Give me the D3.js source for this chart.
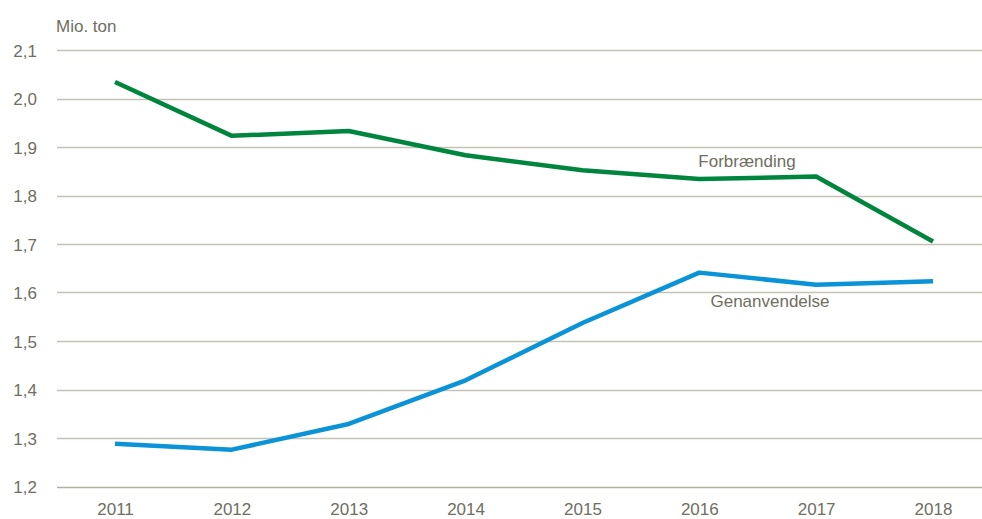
<!DOCTYPE html>
<html>
<head>
<meta charset="utf-8">
<script src="https://cdn.jsdelivr.net/npm/d3@7"></script>
<style>
  html, body { margin: 0; padding: 0; background: #ffffff; }
  svg { display: block; }
  text { font-family: "Liberation Sans", Arial, sans-serif; }
</style>
</head>
<body>
<svg id="chart" width="982" height="519"></svg>
<script>
const years = [2011, 2012, 2013, 2014, 2015, 2016, 2017, 2018];
const forbraending = [2.034, 1.923, 1.933, 1.883, 1.852, 1.834, 1.839, 1.705];
const genanvendelse = [1.288, 1.276, 1.329, 1.419, 1.537, 1.641, 1.616, 1.623];
const yTicks = [1.2, 1.3, 1.4, 1.5, 1.6, 1.7, 1.8, 1.9, 2.0, 2.1];
const unitLabel = "Mio. ton";
const seriesNames = ["Forbrænding", "Genanvendelse"];

const svg = d3.select("#chart");
const textColor = "#6f6e5f";
const gridColor = "#c4c2b5";

const x = d3.scalePoint().domain(years).range([115, 933]);
const y = d3.scaleLinear().domain([1.2, 2.1]).range([486.5, 50]);

const fmt = v => d3.format(".1f")(v).replace(".", ",");

// gridlines
svg.append("g")
  .selectAll("line")
  .data(yTicks)
  .join("line")
  .attr("x1", 57)
  .attr("x2", 992)
  .attr("y1", d => Math.round(y(d)) + 0.5)
  .attr("y2", d => Math.round(y(d)) + 0.5)
  .attr("stroke", d => d === 1.2 ? "#b3b1a2" : gridColor)
  .attr("stroke-width", 1.3);

// y axis labels
const yAxis = d3.axisLeft(y).tickValues(yTicks).tickFormat(fmt).tickSize(0).tickPadding(0);
const gy = svg.append("g").attr("transform", "translate(37,0)").call(yAxis);
gy.select(".domain").remove();
gy.selectAll("text")
  .attr("fill", textColor)
  .style("font-size", "17px")
  .style("font-family", "'Liberation Sans', Arial, sans-serif")
  .attr("dy", "0.36em");

// x axis labels
const xAxis = d3.axisBottom(x).tickSize(0).tickPadding(0);
const gx = svg.append("g").attr("transform", "translate(0,501)").call(xAxis);
gx.select(".domain").remove();
gx.selectAll("text")
  .attr("fill", textColor)
  .style("font-size", "17px")
  .style("font-family", "'Liberation Sans', Arial, sans-serif")
  .attr("dy", "0.8em");

// unit label
svg.append("text")
  .attr("x", 56)
  .attr("y", 32)
  .attr("fill", textColor)
  .style("font-size", "17px")
  .text(unitLabel);

// lines
const line = d3.line().x((d, i) => x(years[i])).y(d => y(d));
svg.append("path")
  .datum(forbraending)
  .attr("d", line)
  .attr("fill", "none")
  .attr("stroke", "#00853f")
  .attr("stroke-width", 4.5)
  .attr("stroke-linejoin", "round");

svg.append("path")
  .datum(genanvendelse)
  .attr("d", line)
  .attr("fill", "none")
  .attr("stroke", "#0a93d6")
  .attr("stroke-width", 4.5)
  .attr("stroke-linejoin", "round");

// series labels
svg.append("text")
  .attr("x", 747)
  .attr("y", 167)
  .attr("text-anchor", "middle")
  .attr("fill", textColor)
  .style("font-size", "17px")
  .text(seriesNames[0]);

svg.append("text")
  .attr("x", 770)
  .attr("y", 307)
  .attr("text-anchor", "middle")
  .attr("fill", textColor)
  .style("font-size", "17px")
  .text(seriesNames[1]);
</script>
</body>
</html>
